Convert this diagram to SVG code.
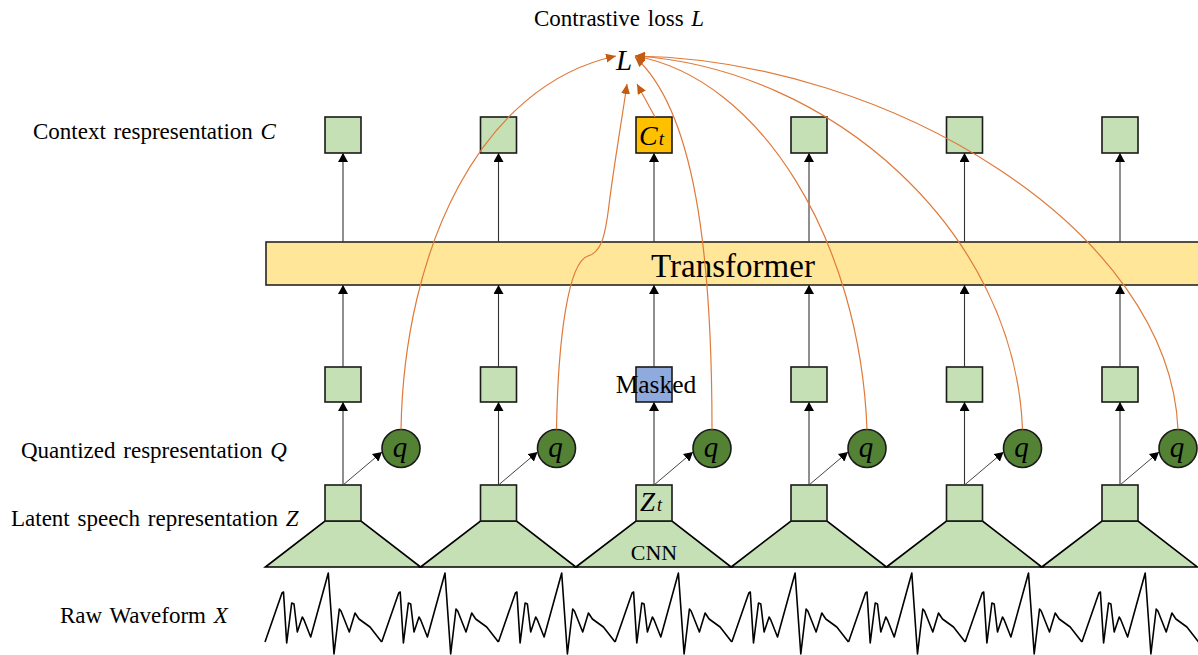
<svg xmlns="http://www.w3.org/2000/svg" xmlns:xlink="http://www.w3.org/1999/xlink" width="1198" height="655" viewBox="0 0 1198 655">
  <style>
    text { font-family: "Liberation Serif", "Times New Roman", serif; fill: #000; }
    .lbl { font-size: 23px; word-spacing: 2px; }
    .var { font-style: italic; }
    .box { fill: #C5E0B4; stroke: #1a1a1a; stroke-width: 1.6; }
    .ctx { fill: #FFC000; stroke: #1a1a1a; stroke-width: 1.6; }
    .mask { fill: #8FAADC; stroke: #1a1a1a; stroke-width: 1.6; }
    .cnn { fill: #C5E0B4; stroke: #000; stroke-width: 1.6; stroke-linejoin: miter; }
    .qc { fill: #548235; stroke: #1a1a1a; stroke-width: 1.6; }
    .qt { font-size: 29px; font-style: italic; text-anchor: middle; }
    .up { stroke: #333; stroke-width: 1.1; fill: none; marker-end: url(#ah); }
    .diag { stroke: #444; stroke-width: 1; fill: none; marker-end: url(#ah); }
    .loss { stroke: #E07A3A; stroke-width: 1.2; fill: none; marker-end: url(#oh); }
    .wave { stroke: #000; stroke-width: 1.6; fill: none; stroke-linejoin: round; }
  </style>
  <defs>
    <marker id="ah" markerUnits="userSpaceOnUse" markerWidth="10" markerHeight="10" refX="9" refY="5" orient="auto">
      <path d="M0,0 L9,5 L0,10 z" fill="#000"/>
    </marker>
    <marker id="oh" markerUnits="userSpaceOnUse" markerWidth="11" markerHeight="10" refX="10" refY="4.5" orient="auto">
      <path d="M0,0 L10,4.5 L0,9 z" fill="#C55A11"/>
    </marker>
    <!-- one period of the raw waveform -->
    <path id="period" class="wave" d="M0,642 L17,593 L18.5,592 L21.7,643 L26.7,603 L29,604 L32.3,632 L37.3,617 L39,620 L45.7,637 L63.3,573 L69,654 L74.3,609 L76,611 L84.3,632 L90,613 L94,619 L105,627 L116.7,642"/>
  </defs>

  <!-- axis labels -->
  <g id="labels">
    <text class="lbl" x="534" y="26">Contrastive loss <tspan class="var">L</tspan></text>
    <text class="lbl" x="33" y="139">Context respresentation <tspan class="var">C</tspan></text>
    <text class="lbl" x="21" y="458">Quantized respresentation <tspan class="var">Q</tspan></text>
    <text class="lbl" x="11" y="526">Latent speech representation <tspan class="var">Z</tspan></text>
    <text class="lbl" x="60" y="623">Raw Waveform <tspan class="var">X</tspan></text>
  </g>

  <!-- raw waveform -->
  <g id="waveform">
    <use xlink:href="#period" x="265"/>
    <use xlink:href="#period" x="381.7"/>
    <use xlink:href="#period" x="498.4"/>
    <use xlink:href="#period" x="615.1"/>
    <use xlink:href="#period" x="731.8"/>
    <use xlink:href="#period" x="848.5"/>
    <use xlink:href="#period" x="965.2"/>
    <use xlink:href="#period" x="1081.9"/>
  </g>

  <!-- CNN encoders -->
  <g id="cnn">
    <path class="cnn" d="M265.4,567 L325,521 L361,521 L420.6,567 Z"/>
    <path class="cnn" d="M420.6,567 L480.5,521 L516.5,521 L575.9,567 Z"/>
    <path class="cnn" d="M575.9,567 L636,521 L672,521 L731.2,567 Z"/>
    <path class="cnn" d="M731.2,567 L791,521 L827,521 L886.5,567 Z"/>
    <path class="cnn" d="M886.5,567 L946.5,521 L982.5,521 L1041.8,567 Z"/>
    <path class="cnn" d="M1041.8,567 L1102,521 L1138,521 L1197.5,567 Z"/>
    <text x="654" y="560" font-size="22" text-anchor="middle">CNN</text>
  </g>

  <!-- transformer -->
  <g id="transformer">
    <rect x="266" y="242" width="940" height="43" fill="#FFE699" stroke="#262626" stroke-width="1.6"/>
    <text x="733" y="277" font-size="33" text-anchor="middle">Transformer</text>
  </g>

  <!-- latent representations Z -->
  <g id="latent">
    <rect class="box" x="325" y="485" width="36" height="36"/>
    <rect class="box" x="480.5" y="485" width="36" height="36"/>
    <rect class="box" x="636" y="485" width="36" height="36"/>
    <rect class="box" x="791" y="485" width="36" height="36"/>
    <rect class="box" x="946.5" y="485" width="36" height="36"/>
    <rect class="box" x="1102" y="485" width="36" height="36"/>
    <text x="640" y="511" font-size="27" class="var">Z<tspan font-size="18" dx="2">t</tspan></text>
  </g>

  <!-- transformer inputs (one masked) -->
  <g id="inputs">
    <rect class="box" x="325" y="367" width="36" height="35"/>
    <rect class="box" x="480.5" y="367" width="36" height="35"/>
    <rect class="mask" x="636" y="367" width="36" height="35"/>
    <rect class="box" x="791" y="367" width="36" height="35"/>
    <rect class="box" x="946.5" y="367" width="36" height="35"/>
    <rect class="box" x="1102" y="367" width="36" height="35"/>
    <text x="656" y="393" font-size="25.5" text-anchor="middle">Masked</text>
  </g>

  <!-- context representations C -->
  <g id="context">
    <rect class="box" x="325" y="117" width="36" height="36"/>
    <rect class="box" x="480.5" y="117" width="36" height="36"/>
    <rect class="ctx" x="636" y="117" width="36" height="36"/>
    <rect class="box" x="791" y="117" width="36" height="36"/>
    <rect class="box" x="946.5" y="117" width="36" height="36"/>
    <rect class="box" x="1102" y="117" width="36" height="36"/>
    <text x="639" y="145" font-size="28" class="var">C<tspan font-size="19" dx="1">t</tspan></text>
  </g>

  <!-- quantized representations q -->
  <g id="quantized">
    <circle class="qc" cx="401" cy="448.5" r="19"/>
    <circle class="qc" cx="556.5" cy="448.5" r="19"/>
    <circle class="qc" cx="712" cy="448.5" r="19"/>
    <circle class="qc" cx="867" cy="448.5" r="19"/>
    <circle class="qc" cx="1022.5" cy="448.5" r="19"/>
    <circle class="qc" cx="1178" cy="448.5" r="19"/>
    <text class="qt" x="400" y="457">q</text>
    <text class="qt" x="555.5" y="457">q</text>
    <text class="qt" x="711" y="457">q</text>
    <text class="qt" x="866" y="457">q</text>
    <text class="qt" x="1021.5" y="457">q</text>
    <text class="qt" x="1177" y="457">q</text>
  </g>

  <!-- loss node -->
  <g id="loss">
    <text x="624" y="70" font-size="29" class="var" text-anchor="middle">L</text>
  </g>

  <!-- connectors -->
  <g id="connectors">
    <!-- Z to transformer inputs -->
    <line class="up" x1="343" y1="485" x2="343" y2="402"/>
    <line class="up" x1="498.5" y1="485" x2="498.5" y2="402"/>
    <line class="up" x1="654" y1="485" x2="654" y2="402"/>
    <line class="up" x1="809" y1="485" x2="809" y2="402"/>
    <line class="up" x1="964.5" y1="485" x2="964.5" y2="402"/>
    <line class="up" x1="1120" y1="485" x2="1120" y2="402"/>
    <!-- Z to quantizer -->
    <line class="diag" x1="343" y1="485" x2="382" y2="452"/>
    <line class="diag" x1="498.5" y1="485" x2="537.5" y2="452"/>
    <line class="diag" x1="654" y1="485" x2="693" y2="452"/>
    <line class="diag" x1="809" y1="485" x2="848" y2="452"/>
    <line class="diag" x1="964.5" y1="485" x2="1003.5" y2="452"/>
    <line class="diag" x1="1120" y1="485" x2="1159" y2="452"/>
    <!-- inputs to transformer -->
    <line class="up" x1="343" y1="367" x2="343" y2="285"/>
    <line class="up" x1="498.5" y1="367" x2="498.5" y2="285"/>
    <line class="up" x1="654" y1="367" x2="654" y2="285"/>
    <line class="up" x1="809" y1="367" x2="809" y2="285"/>
    <line class="up" x1="964.5" y1="367" x2="964.5" y2="285"/>
    <line class="up" x1="1120" y1="367" x2="1120" y2="285"/>
    <!-- transformer to context -->
    <line class="up" x1="343" y1="242" x2="343" y2="153"/>
    <line class="up" x1="498.5" y1="242" x2="498.5" y2="153"/>
    <line class="up" x1="654" y1="242" x2="654" y2="153"/>
    <line class="up" x1="809" y1="242" x2="809" y2="153"/>
    <line class="up" x1="964.5" y1="242" x2="964.5" y2="153"/>
    <line class="up" x1="1120" y1="242" x2="1120" y2="153"/>
    <!-- contrastive loss terms -->
    <path class="loss" d="M401,429.5 C404,250 480,85 616,56"/>
    <path class="loss" d="M556.5,429.5 C558,340 568,262 588,256 C601,252 605,238 609,205 C614,165 621,125 627,84"/>
    <path class="loss" d="M655,117 L637,84"/>
    <path class="loss" d="M712,429.5 C712,250 694,110 635,57"/>
    <path class="loss" d="M867,429.5 C860,240 760,78 635,56"/>
    <path class="loss" d="M1022.5,429.5 C1015,230 830,68 635,56"/>
    <path class="loss" d="M1178,429.5 C1170,230 890,60 635,56"/>
  </g>
</svg>
